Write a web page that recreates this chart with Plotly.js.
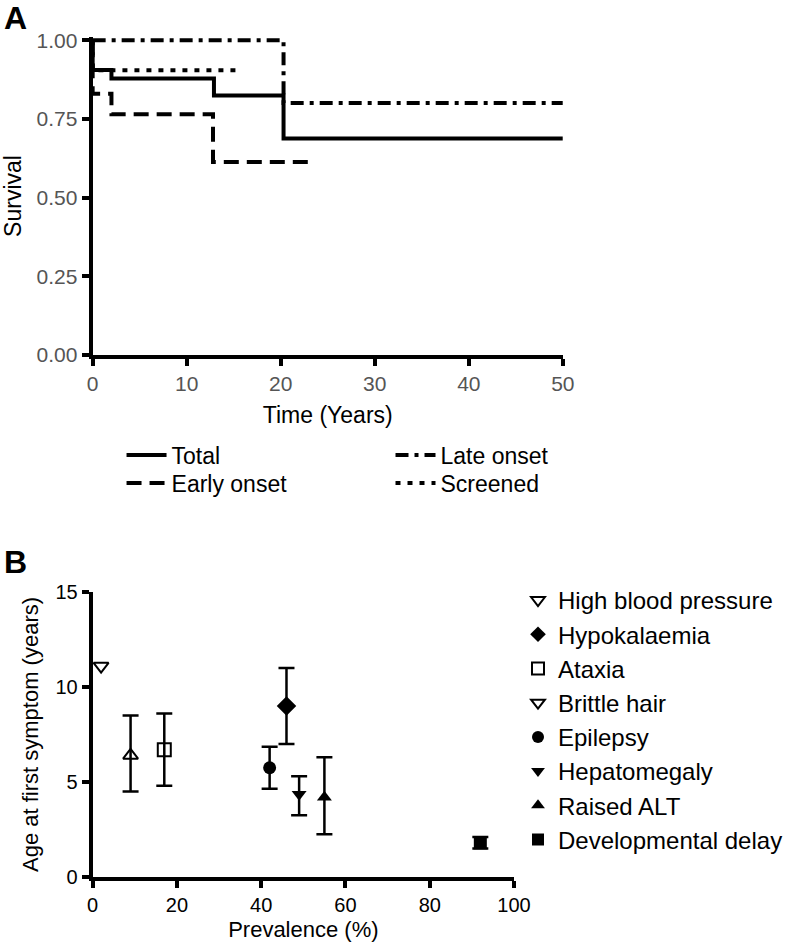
<!DOCTYPE html>
<html>
<head>
<meta charset="utf-8">
<script src="https://cdn.plot.ly/plotly-3.0.1.min.js"></script>
<style>
  html, body { margin: 0; padding: 0; background: #fff; }
  #chart { width: 788px; height: 944px; }
</style>
</head>
<body>
<div id="chart"></div>
<script>
// Panel A: Kaplan-Meier steps (time in years, survival fraction)
const totalT = [0, 0, 2, 12.9, 20.3, 50];
const totalS = [1, 0.905, 0.878, 0.824, 0.688, 0.688];
const earlyT = [0, 0, 2, 12.8, 23];
const earlyS = [1, 0.83, 0.765, 0.613, 0.613];
const lateT = [0, 20.3, 50];
const lateS = [1, 0.80, 0.80];
const screenT = [0, 0, 15.2];
const screenS = [1, 0.904, 0.904];

// Panel B: prevalence vs age at first symptom
const symptoms = ['High blood pressure', 'Hypokalaemia', 'Ataxia', 'Brittle hair',
  'Epilepsy', 'Hepatomegaly', 'Raised ALT', 'Developmental delay'];
const prevalence = [2, 46, 17, 9, 42, 49, 55, 92];
const ageMid = [11.1, 9.0, 6.7, 6.4, 5.75, 4.35, 4.2, 1.8];
const ageHigh = [null, 11.0, 8.6, 8.5, 6.85, 5.3, 6.3, 2.1];
const ageLow = [null, 7.0, 4.8, 4.5, 4.65, 3.25, 2.25, 1.5];

const plotSymbols = ['triangle-down-open', 'diamond', 'square-open', 'triangle-up-open',
  'circle', 'triangle-down', 'triangle-up', 'square'];
const legendSymbols = ['triangle-down-open', 'diamond', 'square-open', 'triangle-down-open',
  'circle', 'triangle-down', 'triangle-up', 'square'];

const W = 788, H = 944;
const px = v => v / W;
const py = v => 1 - v / H;
const FONT = 'Liberation Sans, Arial, sans-serif';

function kmTrace(x, y, name, dash, legend) {
  return {
    x: x, y: y, name: name, mode: 'lines', xaxis: 'x', yaxis: 'y',
    line: { shape: 'hv', color: '#000', width: 4, dash: dash },
    legend: legend, hoverinfo: 'skip'
  };
}

const traces = [
  kmTrace(totalT, totalS, 'Total', 'solid', 'legend'),
  kmTrace(earlyT, earlyS, 'Early onset', '15px,8px', 'legend2'),
  kmTrace(lateT, lateS, 'Late onset', '13px,6px,4px,6px', 'legend3'),
  kmTrace(screenT, screenS, 'Screened', '5px,7px', 'legend4')
];

symptoms.forEach((name, i) => {
  const hasErr = ageHigh[i] !== null;
  const open = plotSymbols[i].endsWith('-open');
  const mk = {
    symbol: plotSymbols[i], color: '#000',
    size: plotSymbols[i] === 'diamond' ? 15 : 13,
    line: { color: '#000', width: open ? 2 : 0 }
  };
  const t = {
    x: [prevalence[i]], y: [ageMid[i]], name: name, mode: 'markers',
    xaxis: 'x2', yaxis: 'y2', legend: 'legend5', cliponaxis: false,
    marker: mk, showlegend: legendSymbols[i] === plotSymbols[i]
  };
  if (hasErr) {
    t.error_y = {
      type: 'data', symmetric: false,
      array: [ageHigh[i] - ageMid[i]], arrayminus: [ageMid[i] - ageLow[i]],
      color: '#000', thickness: 2.5, width: 8
    };
  }
  traces.push(t);
  if (!t.showlegend) {
    // legend entry uses a different glyph than the plotted point
    traces.push({
      x: [null], y: [null], name: name, mode: 'markers', xaxis: 'x2', yaxis: 'y2',
      legend: 'legend5',
      marker: { symbol: legendSymbols[i], color: '#000', size: 13, line: { color: '#000', width: 2 } }
    });
  }
});

function legendAt(x, y) {
  return {
    x: px(x), y: py(y), xanchor: 'left', yanchor: 'middle',
    font: { family: FONT, size: 23, color: '#000' },
    bgcolor: 'rgba(0,0,0,0)', itemwidth: 40
  };
}

const axisBase = {
  showgrid: false, zeroline: false, showline: true, linecolor: '#000', linewidth: 4,
  ticks: 'outside', ticklen: 7, tickwidth: 4, tickcolor: '#000', mirror: false
};

const layout = {
  width: W, height: H,
  margin: { l: 0, r: 0, t: 0, b: 0 },
  paper_bgcolor: '#fff', plot_bgcolor: '#fff',
  font: { family: FONT, color: '#000' },
  showlegend: true,
  xaxis: Object.assign({}, axisBase, {
    domain: [px(93), px(565)], anchor: 'y', range: [0, 50], dtick: 10,
    tickfont: { size: 21, color: '#555' },
    title: { text: 'Time (Years)', font: { size: 23 }, standoff: 14 }
  }),
  yaxis: Object.assign({}, axisBase, {
    domain: [py(355), py(37)], anchor: 'x', range: [0, 1.01],
    tickvals: [0, 0.25, 0.5, 0.75, 1], tickformat: '.2f',
    tickfont: { size: 21, color: '#555' },
    title: { text: 'Survival', font: { size: 23 }, standoff: 10 }
  }),
  xaxis2: Object.assign({}, axisBase, {
    domain: [px(93), px(516)], anchor: 'y2', range: [0, 100], dtick: 20,
    tickfont: { size: 20, color: '#000' },
    title: { text: 'Prevalence (%)', font: { size: 22 }, standoff: 8 }
  }),
  yaxis2: Object.assign({}, axisBase, {
    domain: [py(877), py(592)], anchor: 'x2', range: [0, 15], dtick: 5,
    tickfont: { size: 20, color: '#000' },
    title: { text: 'Age at first symptom (years)', font: { size: 22 }, standoff: 12 }
  }),
  legend: legendAt(122, 455),
  legend2: legendAt(122, 483),
  legend3: legendAt(392, 455),
  legend4: legendAt(392, 483),
  legend5: {
    x: px(520), y: py(578), xanchor: 'left', yanchor: 'top',
    font: { family: FONT, size: 24, color: '#000' },
    bgcolor: 'rgba(0,0,0,0)', itemsizing: 'constant', tracegroupgap: 0
  },
  annotations: [
    { text: '<b>A</b>', x: px(2), y: py(18), xref: 'paper', yref: 'paper',
      xanchor: 'left', yanchor: 'middle', showarrow: false, font: { size: 32 } },
    { text: '<b>B</b>', x: px(2), y: py(562), xref: 'paper', yref: 'paper',
      xanchor: 'left', yanchor: 'middle', showarrow: false, font: { size: 32 } }
  ]
};

Plotly.newPlot('chart', traces, layout, { displayModeBar: false, staticPlot: true });
</script>
</body>
</html>
